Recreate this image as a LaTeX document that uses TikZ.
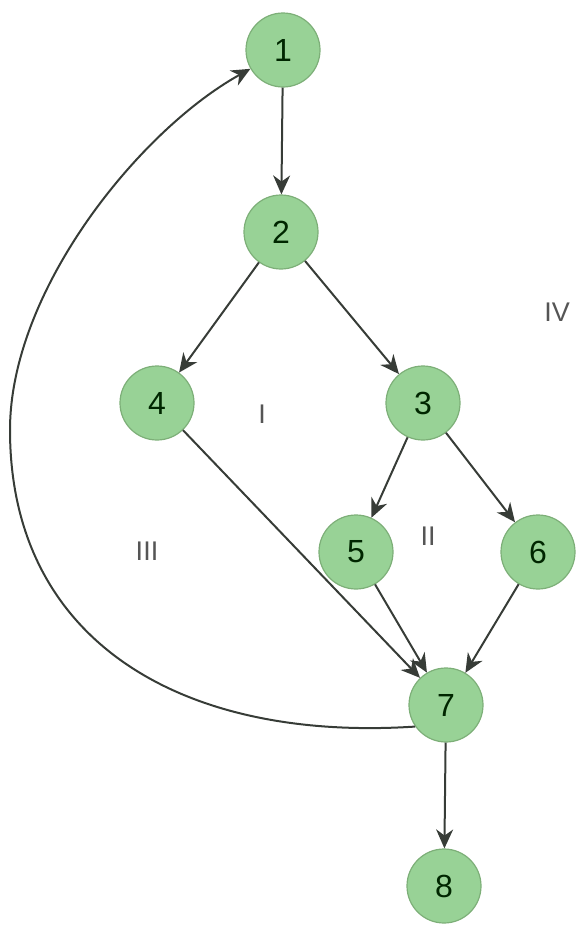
\documentclass[tikz,border=0pt]{standalone}
\usepackage{fontspec}
\setmainfont{Liberation Sans}
\usetikzlibrary{arrows.meta}
\definecolor{nodefill}{RGB}{152,210,150}
\definecolor{nodeline}{RGB}{125,175,120}
\definecolor{edgecol}{RGB}{55,60,55}
\definecolor{regioncol}{RGB}{85,85,85}
\begin{document}
\begin{tikzpicture}[x=1pt,y=-1pt,
  vertex/.style={circle,fill=nodefill,draw=nodeline,line width=1.2pt,minimum size=74pt,inner sep=0pt,
    font=\fontsize{32}{34}\selectfont,text=black!85!green},
  region/.style={font=\fontsize{27}{29}\selectfont,text=regioncol},
  edge/.style={draw=edgecol,line width=2pt,-{Stealth[length=19pt,width=17pt]}}]
\useasboundingbox (0,0) rectangle (579,926);

\node[vertex] (n1) at (283,50) {1};
\node[vertex] (n2) at (281,232) {2};
\node[vertex] (n4) at (157,403) {4};
\node[vertex] (n3) at (423,403) {3};
\node[vertex] (n5) at (356,552) {5};
\node[vertex] (n6) at (538,552) {6};
\node[vertex] (n7) at (446,705) {7};
\node[vertex] (n8) at (444,886) {8};

\node[region] (rI) at (262,414) {I};
\node[region] (rII) at (428,536) {II};
\node[region] (rIII) at (147,551) {III};
\node[region] (rIV) at (557,312) {IV};

\coordinate (bend) at (10,430);

\draw[edge] (n1) -- (n2);
\draw[edge] (n2) -- (n4);
\draw[edge] (n2) -- (n3);
\draw[edge] (n3) -- (n5);
\draw[edge] (n3) -- (n6);
\draw[edge] (n4) -- (n7);
\draw[edge] (n5) -- (n7);
\draw[edge] (n6) -- (n7);
\draw[edge] (n7) -- (n8);
\draw[edge] (n7.215) .. controls (180,742) and (10,640) .. (bend)
  .. controls (10,290) and (140,130) .. (n1.210);
\end{tikzpicture}
\end{document}
